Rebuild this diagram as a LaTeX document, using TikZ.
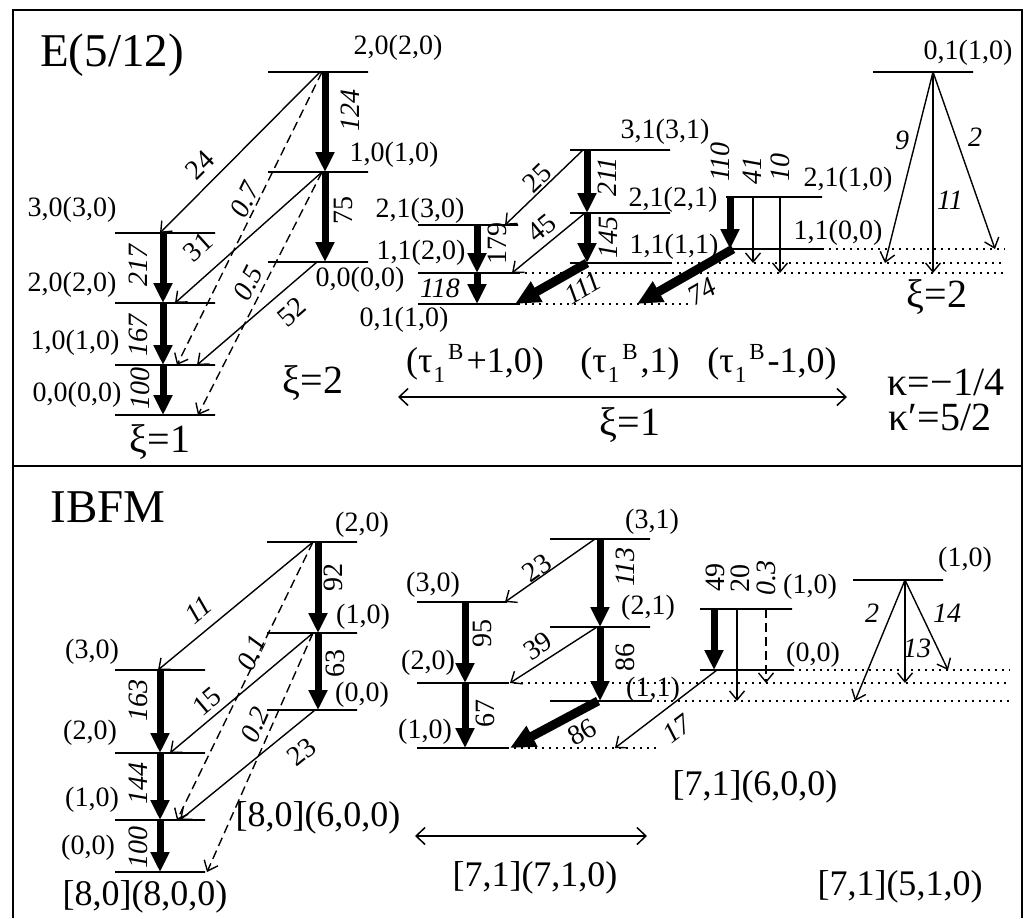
\documentclass[tikz,border=0pt]{standalone}
\usepackage{fontspec}
\setmainfont{Liberation Serif}
\usetikzlibrary{arrows.meta}

\newcommand{\tauone}{τ\kern1pt\raisebox{-10pt}{\fontsize{23}{23}\selectfont 1}\kern3pt\raisebox{13pt}{\fontsize{23}{23}\selectfont B}\kern3pt}

\tikzset{
  lvl/.style={draw,line width=1.7pt,minimum width=100pt,minimum height=0pt,inner sep=0pt,outer sep=0pt},
  thk/.style={line width=7pt,-{Triangle[length=20pt,width=18pt]}},
  thkd/.style={line width=9pt,-{Triangle[length=25pt,width=22pt]}},
  thn/.style={line width=1.4pt,-{Straight Barb[length=9pt,width=15pt,line width=1.4pt]}},
  dsh/.style={thn,dash pattern=on 9pt off 5pt},
  dbl/.style={line width=1.5pt,{Straight Barb[length=9pt,width=17pt,line width=1.5pt]}-{Straight Barb[length=9pt,width=17pt,line width=1.5pt]}},
  dots/.style={line width=1.5pt,dash pattern=on 1.5pt off 5.5pt},
  frame/.style={line width=2.2pt},
  lab/.style={inner sep=0pt,font=\fontsize{28}{28}\selectfont},
  num/.style={inner sep=0pt,font=\fontsize{28}{28}\selectfont\itshape},
  big/.style={inner sep=0pt,font=\fontsize{36}{36}\selectfont},
  greek/.style={inner sep=0pt,font=\fontsize{40}{40}\selectfont},
  taulab/.style={inner sep=0pt,font=\fontsize{36}{36}\selectfont},
  title/.style={inner sep=0pt,font=\fontsize{47}{47}\selectfont}
}

\begin{document}
\begin{tikzpicture}[x=1pt,y=-1pt]
\useasboundingbox (0,0) rectangle (1030,918);

\draw[frame] (13,918) -- (13,10) -- (1022,10) -- (1022,918);
\draw[frame] (13,466) -- (1022,466);

% E(5/12) panel
\node[title] (e512) at (112,55) {E(5/12)};

\node[lvl] (a20) at (318,72) {};
\node[lvl] (a10) at (318,172) {};
\node[lvl] (a00) at (318,262) {};
\node[lvl] (b30) at (165,233) {};
\node[lvl] (b20) at (165,303) {};
\node[lvl] (b10) at (165,365) {};
\node[lvl] (b00) at (165,415) {};

\node[lvl] (c21) at (468,225) {};
\node[lvl] (c11) at (468,273) {};
\node[lvl] (c01) at (468,304) {};
\node[lvl] (d31) at (620,150) {};
\node[lvl] (d21) at (620,213) {};
\node[lvl] (d11) at (620,263) {};
\node[lvl,minimum width=96pt] (e21) at (774,197) {};
\node[lvl,minimum width=96pt] (e11) at (774,249) {};
\node[lvl] (f01) at (923,72) {};

\draw[dots] (c11.east) -- (1005,273);
\draw[dots] (c01.east) -- (693,304);
\draw[dots] (d11.east) -- (1005,263);
\draw[dots] (e11.east) -- (1005,249);

\node[lab] (ta20) at (398,48) {2,0(2,0)};
\node[lab] (ta10) at (394,155) {1,0(1,0)};
\node[lab] (ta00) at (360,280) {0,0(0,0)};
\node[lab] (tb30) at (72,210) {3,0(3,0)};
\node[lab] (tb20) at (72,285) {2,0(2,0)};
\node[lab] (tb10) at (75,343) {1,0(1,0)};
\node[lab] (tb00) at (77,395) {0,0(0,0)};
\node[lab] (tc21) at (420,211) {2,1(3,0)};
\node[lab] (tc11) at (421,253) {1,1(2,0)};
\node[lab] (tc01) at (404,320) {0,1(1,0)};
\node[lab] (td31) at (665,132) {3,1(3,1)};
\node[lab] (td21) at (673,200) {2,1(2,1)};
\node[lab] (td11) at (674,247) {1,1(1,1)};
\node[lab] (te21) at (848,180) {2,1(1,0)};
\node[lab] (te11) at (838,233) {1,1(0,0)};
\node[lab] (tf01) at (968,53) {0,1(1,0)};

\draw[thk] ([xshift=7pt]a20.center) -- ([xshift=7pt]a10.center);
\draw[thk] ([xshift=7pt]a10.center) -- ([xshift=7pt]a00.center);
\draw[thk] ([xshift=-2pt]b30.center) -- ([xshift=-2pt]b20.center);
\draw[thk] ([xshift=-2pt]b20.center) -- ([xshift=-2pt]b10.center);
\draw[thk] ([xshift=-2pt]b10.center) -- ([xshift=-2pt]b00.center);
\draw[thn] ([xshift=2pt]a20.center) -- ([xshift=-5pt]b30.center);
\draw[dsh] ([xshift=4pt]a20.center) -- ([xshift=12pt]b10.center);
\draw[thn] ([xshift=4pt]a10.center) -- ([xshift=10pt]b20.center);
\draw[dsh] ([xshift=4pt]a10.center) -- ([xshift=33pt]b00.center);
\draw[thn] ([xshift=-1pt]a00.center) -- ([xshift=32pt]b10.center);

\draw[thk] ([xshift=9pt]c21.center) -- ([xshift=9pt]c11.center);
\draw[thk] ([xshift=9pt]c11.center) -- ([xshift=9pt]c01.center);
\draw[thk] ([xshift=-33pt]d31.center) -- ([xshift=-33pt]d21.center);
\draw[thk] ([xshift=-33pt]d21.center) -- ([xshift=-33pt]d11.center);
\draw[thkd] ([xshift=-33pt]d11.center) -- ([xshift=47pt]c01.center);
\draw[thn] ([xshift=-37pt]d31.center) -- ([xshift=37pt]c21.center);
\draw[thn] ([xshift=-35pt]d21.center) -- ([xshift=44pt]c11.center);
\draw[thk] ([xshift=-44pt]e21.center) -- ([xshift=-44pt]e11.center);
\draw[thkd] ([xshift=-41pt]e11.center) -- ([xshift=169pt]c01.center);
\draw[thn] ([xshift=-21pt]e21.center) -- ([xshift=-21pt]e21.center |- d11.center);
\draw[thn] ([xshift=6pt]e21.center) -- ([xshift=6pt]e21.center |- c11.center);
\draw[thn] ([xshift=10pt]f01.center) -- ([xshift=-38pt]f01.center |- d11.center);
\draw[thn] ([xshift=10pt]f01.center) -- ([xshift=10pt]f01.center |- c11.center);
\draw[thn] ([xshift=10pt]f01.center) -- ([xshift=72pt]f01.center |- e11.center);

\node[num,rotate=90] (n124) at (350,110) {124};
\node[lab,rotate=90] (n75) at (343,210) {75};
\node[num,rotate=90] (n217) at (138,265) {217};
\node[num,rotate=90] (n167) at (138,335) {167};
\node[num,rotate=90] (n100) at (140,388) {100};
\node[lab,rotate=45] (n24) at (200,165) {24};
\node[num,rotate=64] (n07) at (245,200) {0.7};
\node[lab,rotate=42] (n31) at (198,247) {31};
\node[num,rotate=63] (n05) at (248,283) {0.5};
\node[lab,rotate=41] (n52) at (292,312) {52};
\node[lab,rotate=90] (n179) at (497,243) {179};
\node[num] (n118) at (440,288) {118};
\node[num,rotate=90] (n211) at (607,177) {211};
\node[num,rotate=90] (n145) at (608,237) {145};
\node[lab,rotate=44] (n25) at (537,178) {25};
\node[lab,rotate=39] (n45) at (542,228) {45};
\node[num,rotate=30] (n111) at (583,288) {111};
\node[num,rotate=30] (n74) at (702,292) {74};
\node[num,rotate=90] (n110) at (720,162) {110};
\node[num,rotate=90] (n41) at (752,170) {41};
\node[num,rotate=90] (n10) at (780,167) {10};
\node[num] (n9) at (902,140) {9};
\node[num] (n11) at (950,200) {11};
\node[num] (n2) at (975,137) {2};

\node[greek] (xi1a) at (160,442) {ξ=1};
\node[greek] (xi2a) at (313,383) {ξ=2};
\node[greek] (xi2b) at (937,297) {ξ=2};
\node[greek] (xi1b) at (630,425) {ξ=1};
\node[taulab] (tau1) at (475,363) {(\tauone+1,0)};
\node[taulab] (tau2) at (630,363) {(\tauone,1)};
\node[taulab] (tau3) at (772,363) {(\tauone-1,0)};
\node[greek] (kap1) at (946,382) {κ=−1/4};
\node[greek] (kap2) at (940,417) {κ′=5/2};
\coordinate (xl) at (398,397);
\coordinate (xr) at (847,397);
\draw[dbl] (xl) -- (xr);

% IBFM panel
\node[title] (ibfm) at (108,507) {IBFM};

\node[lvl,minimum width=90pt] (g30) at (160,670) {};
\node[lvl,minimum width=90pt] (g20) at (160,753) {};
\node[lvl,minimum width=90pt] (g10) at (160,820) {};
\node[lvl,minimum width=90pt] (g00) at (160,872) {};
\node[lvl,minimum width=90pt] (h20) at (312,542) {};
\node[lvl,minimum width=90pt] (h10) at (312,633) {};
\node[lvl,minimum width=90pt] (h00) at (312,710) {};
\node[lvl,minimum width=90pt] (i30) at (462,602) {};
\node[lvl,minimum width=90pt] (i20) at (462,683) {};
\node[lvl,minimum width=90pt] (i10) at (462,748) {};
\node[lvl] (j31) at (600,539) {};
\node[lvl] (j21) at (600,627) {};
\node[lvl] (j11) at (600,701) {};
\node[lvl,minimum width=92pt] (k10) at (746,609) {};
\node[lvl,minimum width=92pt] (k00) at (746,670) {};
\node[lvl,minimum width=90pt] (m10) at (898,580) {};

\draw[dots] (i20.east) -- (1010,683);
\draw[dots] (i10.east) -- (658,748);
\draw[dots] (j11.east) -- (1010,701);
\draw[dots] (k00.east) -- (1010,670);

\node[lab] (th20) at (362,525) {(2,0)};
\node[lab] (th10) at (363,617) {(1,0)};
\node[lab] (th00) at (362,695) {(0,0)};
\node[lab] (tg30) at (92,652) {(3,0)};
\node[lab] (tg20) at (90,733) {(2,0)};
\node[lab] (tg10) at (92,800) {(1,0)};
\node[lab] (tg00) at (88,848) {(0,0)};
\node[lab] (ti30) at (433,585) {(3,0)};
\node[lab] (ti20) at (428,663) {(2,0)};
\node[lab] (ti10) at (425,732) {(1,0)};
\node[lab] (tj31) at (652,522) {(3,1)};
\node[lab] (tj21) at (648,608) {(2,1)};
\node[lab] (tj11) at (653,690) {(1,1)};
\node[lab] (tk10) at (810,587) {(1,0)};
\node[lab] (tk00) at (813,655) {(0,0)};
\node[lab] (tm10) at (965,560) {(1,0)};

\draw[thk] ([xshift=6pt]h20.center) -- ([xshift=6pt]h10.center);
\draw[thk] ([xshift=6pt]h10.center) -- ([xshift=6pt]h00.center);
\draw[thk] (g30.center) -- (g20.center);
\draw[thk] (g20.center) -- (g10.center);
\draw[thk] (g10.center) -- (g00.center);
\draw[thn] ([xshift=1pt]h20.center) -- ([xshift=-2pt]g30.center);
\draw[dsh] ([xshift=1pt]h20.center) -- ([xshift=17pt]g10.center);
\draw[thn] ([xshift=1pt]h10.center) -- ([xshift=10pt]g20.center);
\draw[dsh] ([xshift=1pt]h10.center) -- ([xshift=47pt]g00.center);
\draw[thn] ([xshift=3pt]h00.center) -- ([xshift=20pt]g10.center);

\draw[thk] ([xshift=3pt]i30.center) -- ([xshift=3pt]i20.center);
\draw[thk] ([xshift=3pt]i20.center) -- ([xshift=3pt]i10.center);
\draw[thk] (j31.center) -- (j21.center);
\draw[thk] (j21.center) -- (j11.center);
\draw[thkd] ([xshift=-2pt]j11.center) -- ([xshift=48pt]i10.center);
\draw[thn] ([xshift=-5pt]j31.center) -- ([xshift=43pt]i30.center);
\draw[thn] ([xshift=-3pt]j21.center) -- ([xshift=48pt]i20.center);
\draw[thk] ([xshift=-32pt]k10.center) -- ([xshift=-32pt]k00.center);
\draw[thn] ([xshift=-9pt]k10.center) -- ([xshift=-9pt]k10.center |- j11.center);
\draw[dsh] ([xshift=20pt]k10.center) -- ([xshift=20pt]k10.center |- i20.center);
\draw[thn] ([xshift=-29pt]k00.center) -- ([xshift=153pt]i10.center);
\draw[thn] ([xshift=7pt]m10.center) -- ([xshift=-43pt]m10.center |- j11.center);
\draw[thn] ([xshift=7pt]m10.center) -- ([xshift=7pt]m10.center |- i20.center);
\draw[thn] ([xshift=7pt]m10.center) -- ([xshift=50pt]m10.center |- k00.center);

\node[lab,rotate=90] (p92) at (333,577) {92};
\node[lab,rotate=90] (p63) at (335,663) {63};
\node[num,rotate=90] (p163) at (138,700) {163};
\node[num,rotate=90] (p144) at (138,783) {144};
\node[num,rotate=90] (p100) at (138,847) {100};
\node[num,rotate=40] (p11) at (198,610) {11};
\node[num,rotate=64] (p01) at (252,653) {0.1};
\node[lab,rotate=40] (p15) at (207,702) {15};
\node[num,rotate=66] (p02) at (255,725) {0.2};
\node[lab,rotate=39] (p23a) at (302,752) {23};
\node[lab,rotate=35] (p23b) at (537,568) {23};
\node[lab,rotate=33] (p39) at (538,646) {39};
\node[num,rotate=90] (p113) at (625,567) {113};
\node[lab,rotate=90] (p86a) at (625,657) {86};
\node[lab,rotate=90] (p95) at (482,633) {95};
\node[lab,rotate=90] (p67) at (485,713) {67};
\node[lab,rotate=29] (p86b) at (582,732) {86};
\node[num,rotate=37] (p17) at (677,729) {17};
\node[lab,rotate=90] (p49) at (715,577) {49};
\node[lab,rotate=90] (p20) at (740,578) {20};
\node[num,rotate=90] (p03) at (766,578) {0.3};
\node[num] (p2) at (872,613) {2};
\node[num] (p13) at (917,648) {13};
\node[num] (p14) at (947,613) {14};

\node[big] (s800) at (145,897) {[8,0](8,0,0)};
\node[big] (s600) at (318,818) {[8,0](6,0,0)};
\node[big] (s710) at (535,878) {[7,1](7,1,0)};
\node[big] (s6b) at (755,787) {[7,1](6,0,0)};
\node[big] (s510) at (900,887) {[7,1](5,1,0)};
\coordinate (yl) at (415,836);
\coordinate (yr) at (647,836);
\draw[dbl] (yl) -- (yr);
\end{tikzpicture}
\end{document}
